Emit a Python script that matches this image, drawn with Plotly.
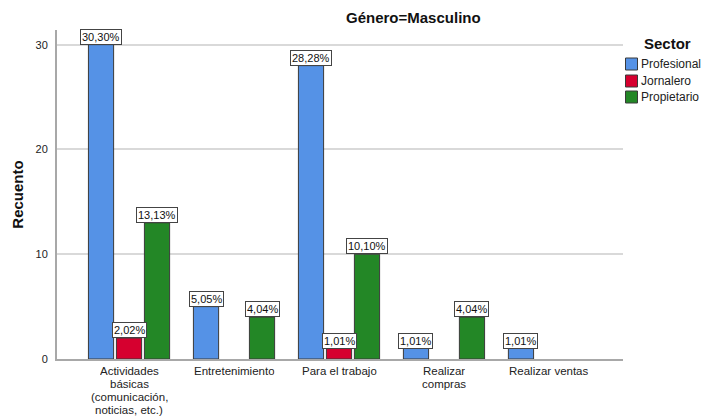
import plotly.graph_objects as go

# Counts per activity and sector (male respondents)
categories = [
    "Actividades<br>básicas<br>(comunicación,<br>noticias, etc.)",
    "Entretenimiento",
    "Para el trabajo",
    "Realizar<br>compras",
    "Realizar ventas",
]
sectors = ["Profesional", "Jornalero", "Propietario"]
profesional = [30, 5, 28, 1, 1]
jornalero = [2, None, 1, None, None]
propietario = [13, 4, 10, 4, None]

colors = ["#5592e6", "#d6002f", "#238726"]
series = [profesional, jornalero, propietario]
total = sum(v for s in series for v in s if v)

FONT = "Liberation Sans, Arial, sans-serif"
W, H = 702, 418
ML, MR, MT, MB = 57, 79, 30, 59
PW, PH = W - ML - MR, H - MT - MB


def px_x(px):
    return (px - ML) / PW


def px_y(py):
    return (H - MB - py) / PH


fig = go.Figure()
for name, vals, col in zip(sectors, series, colors):
    fig.add_trace(go.Bar(
        x=categories, y=vals, name=name,
        marker=dict(color=col, line=dict(color="#3a3a3a", width=1)),
        showlegend=False,
    ))

annotations = []
shapes = []

# Boxed percentage labels on top of each bar
slot_px = 28
for i, vals in enumerate(series):
    shift = (i - 1) * slot_px
    for cat, v in zip(categories, vals):
        if not v:
            continue
        pct = f"{v / total * 100:.2f}%".replace(".", ",")
        annotations.append(dict(
            x=cat, y=v, xref="x", yref="y", text=pct, showarrow=False,
            xanchor="center", yanchor="bottom", xshift=shift, yshift=0,
            font=dict(family=FONT, size=11, color="#111111"),
            bgcolor="white", bordercolor="#444444", borderwidth=1, borderpad=1,
        ))

# Category labels, one line at a time with tight line spacing
line_gap = 13
for cat in categories:
    for j, line in enumerate(cat.split("<br>")):
        annotations.append(dict(
            x=cat, y=0, xref="x", yref="y", text=line, showarrow=False,
            xanchor="center", yanchor="middle", yshift=-(12 + line_gap * j),
            height=12, borderpad=0,
            font=dict(family=FONT, size=11.5, color="#222222"),
        ))

# Title
annotations.append(dict(
    x=px_x(413), y=px_y(17), xref="paper", yref="paper",
    text="<b>Género=Masculino</b>", showarrow=False,
    xanchor="center", yanchor="middle",
    font=dict(family=FONT, size=15, color="#111111"),
))

# Legend
annotations.append(dict(
    x=px_x(642), y=px_y(44), xref="paper", yref="paper",
    text="<b>Sector</b>", showarrow=False, xanchor="left", yanchor="middle",
    font=dict(family=FONT, size=15, color="#111111"),
))
leg_y = [64, 81, 97]
for name, col, yc in zip(sectors, colors, leg_y):
    shapes.append(dict(
        type="rect", xref="paper", yref="paper",
        x0=px_x(625.5), x1=px_x(637.5), y0=px_y(yc + 6), y1=px_y(yc - 6),
        fillcolor=col, line=dict(color="#3a3a3a", width=1),
    ))
    annotations.append(dict(
        x=px_x(639), y=px_y(yc), xref="paper", yref="paper",
        text=name, showarrow=False, xanchor="left", yanchor="middle",
        font=dict(family=FONT, size=12, color="#222222"),
    ))

fig.update_layout(
    width=W, height=H, autosize=False,
    margin=dict(l=ML, r=MR, t=MT, b=MB, autoexpand=False),
    paper_bgcolor="white", plot_bgcolor="white",
    font=dict(family=FONT, size=11, color="#222222"),
    barmode="group", bargap=0.2, bargroupgap=0.1,
    showlegend=False,
    annotations=annotations,
    shapes=shapes,
)

fig.update_yaxes(
    range=[0, 31.4], tickvals=[0, 10, 20, 30], ticktext=["0", "10", "20", "30"],
    showgrid=True, gridcolor="#d9d9d9", gridwidth=1.5,
    showline=True, linecolor="#a8a8a8", linewidth=2, zeroline=False,
    ticks="", ticklabelstandoff=5,
    title=dict(text="<b>Recuento</b>", font=dict(family=FONT, size=15, color="#111111"), standoff=8),
    tickfont=dict(family=FONT, size=11, color="#222222"),
)
fig.update_xaxes(
    range=[-0.686, 4.705], showgrid=False, showticklabels=False,
    showline=True, linecolor="#a8a8a8", linewidth=2, ticks="",
)

fig.write_html("out.html")
